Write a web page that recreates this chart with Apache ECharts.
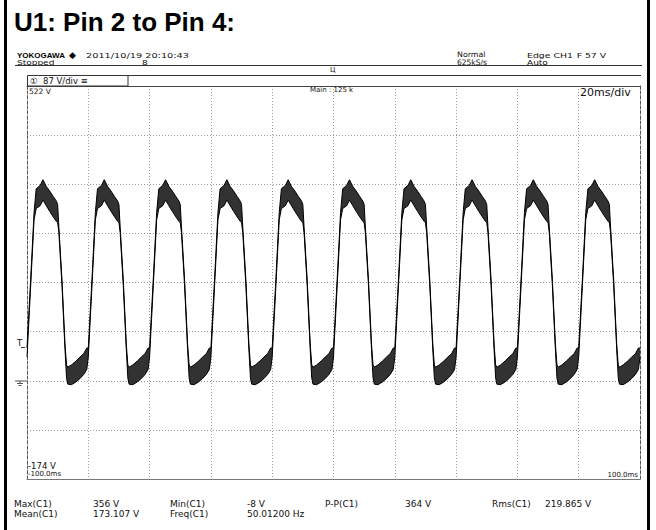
<!DOCTYPE html>
<html>
<head>
<meta charset="utf-8">
<script src="https://cdn.jsdelivr.net/npm/echarts@6/dist/echarts.min.js"></script>
<style>
html,body{margin:0;padding:0;background:#fff;}
#chart{width:656px;height:530px;}
</style>
</head>
<body>
<div id="chart"></div>
<script>
// ---- data (time in ms, voltage in V) ----
const xTicks = [-100, -80, -60, -40, -20, 0, 20, 40, 60, 80, 100];
const yTicks = [-174, -87, 0, 87, 174, 261, 348, 435, 522];
// start of each 20 ms cycle (rising edge through ~57 V trigger level)
const cycleStarts = [-100, -80, -60, -40, -20, 0, 20, 40, 60, 80, 100];
// one cycle of the waveform, phase within cycle (ms)
const phaseMs = [0, 1.2, 2.3, 3.0, 4.3, 5.2, 6.3, 7.4, 8.6, 9.6, 10.0, 10.4, 11.4, 12.4, 12.9, 13.3, 14.5, 16.0, 17.3, 18.5, 19.5];
// lower and upper edge of the noisy trace (V)
const lowerV = [42, 168, 285, 305, 310, 320, 310, 300, 290, 282, 280, 262, 170, 55, 5, -6, -7, -2, 4, 11, 20];
const upperV = [58, 180, 298, 340, 346, 356, 344, 336, 326, 318, 312, 272, 180, 65, 28, 24, 28, 35, 42, 48, 58];

const titleText = 'U1: Pin 2 to Pin 4:';
const measLabels = [['Max(C1)', 'Mean(C1)'], ['Min(C1)', 'Freq(C1)'], ['P-P(C1)'], ['Rms(C1)']];
const measValues = [['356 V', '173.107 V'], ['-8 V', '50.01200 Hz'], ['364 V'], ['219.865 V']];

// ---- build series data ----
const loData = [], hiData = [];
cycleStarts.forEach(function (s) {
  phaseMs.forEach(function (p, i) {
    const t = s + p;
    if (t <= xTicks[xTicks.length - 1] + 1e-9) {
      loData.push([t, lowerV[i]]);
      hiData.push([t, upperV[i]]);
    }
  });
});

const SMALL = '"DejaVu Sans","Noto Sans CJK JP",sans-serif';
function txt(x, y, s, size, opts) {
  opts = opts || {};
  const el = {
    type: 'text', x: x, y: y, z: 100,
    style: {
      text: s,
      font: (opts.weight || 'normal') + ' ' + size + 'px ' + (opts.family || SMALL),
      fill: opts.fill || '#111',
      align: opts.align || 'left', textAlign: opts.align || 'left',
      verticalAlign: 'middle', textVerticalAlign: 'middle'
    }
  };
  if (opts.sx) { el.scaleX = opts.sx; el.originX = 0; el.originY = 0; }
  return el;
}
function ln(x1, y1, x2, y2, color, w) {
  return { type: 'line', z: 100, shape: { x1: x1, y1: y1, x2: x2, y2: y2 }, style: { stroke: color || '#333', lineWidth: w || 1 } };
}

const graphics = [
  // outer frame verticals
  { type: 'rect', z: 100, shape: { x: 4, y: 0, width: 3, height: 530 }, style: { fill: '#000' } },
  { type: 'rect', z: 100, shape: { x: 647, y: 0, width: 3, height: 530 }, style: { fill: '#000' } },
  // title
  txt(14, 22, titleText, 26, { weight: 'bold', family: '"Liberation Sans", Arial, sans-serif', fill: '#000' }),
  // header
  txt(17, 55, 'YOKOGAWA', 8, { weight: 'bold', family: '"Liberation Sans", Arial, sans-serif', fill: '#000' }),
  txt(69, 54.5, '\u25C6', 9, { fill: '#000' }),
  txt(86, 55, '2011/10/19 20:10:43', 7.5, { sx: 1.3 }),
  txt(17, 62.5, 'Stopped', 7.5, { sx: 1.2 }),
  txt(142, 62.5, '8', 7.5, { sx: 1.2 }),
  txt(330, 69.5, '\u0426', 7),
  txt(457, 55, 'Normal', 7.5, { sx: 1.05 }),
  txt(457, 62.5, '625kS/s', 7.5, { sx: 1.0 }),
  txt(527, 55, 'Edge CH1 \u20A3 57 V', 7.5, { sx: 1.25 }),
  txt(527, 62.5, 'Auto', 7.5, { sx: 1.2 }),
  ln(15, 65.5, 642, 65.5, '#333', 1),
  // channel tab
  { type: 'rect', z: 100, shape: { x: 27.5, y: 75.5, width: 100.5, height: 10.5 }, style: { fill: '#fff', stroke: '#333', lineWidth: 1 } },
  ln(128, 75.5, 641, 75.5, '#333', 1),
  txt(30, 81, '\u2460', 8.5),
  txt(43, 81, '87 V/div \u2261', 8.5),
  // in-plot labels
  txt(29, 91.5, '522 V', 7.5),
  txt(310, 90, 'Main : 125 k', 7),
  txt(580, 92.5, '20ms/div', 11),
  txt(28, 466, '-174 V', 8.5),
  txt(28, 473.5, '-100.0ms', 7),
  txt(638, 474.5, '100.0ms', 7, { align: 'right' }),
  // trigger level and ground markers
  txt(17, 343, 'T', 8.5),
  ln(21, 347.5, 25, 347.5, '#333', 1),
  ln(15, 381, 27, 381, '#555', 1),
  ln(20, 381, 20, 383, '#555', 1),
  ln(17, 383.5, 23, 383.5, '#555', 1),
  ln(18.5, 385.5, 21.5, 385.5, '#555', 1)
];
// measurement rows
const measLabelX = [14, 170, 325, 492];
const measValueX = [93, 247, 405, 545];
const rowY = [504, 514];
measLabels.forEach(function (col, c) {
  col.forEach(function (s, r) { graphics.push(txt(measLabelX[c], rowY[r], s, 9)); });
});
measValues.forEach(function (col, c) {
  col.forEach(function (s, r) { graphics.push(txt(measValueX[c], rowY[r], s, 9)); });
});

const chart = echarts.init(document.getElementById('chart'), null, { renderer: 'svg' });
const gridSplit = { show: true, lineStyle: { color: '#9a9a9a', width: 1, type: [1, 2] } };
chart.setOption({
  animation: false,
  backgroundColor: '#fff',
  grid: { left: 27, top: 86, width: 613, height: 393, show: false },
  xAxis: [
    { type: 'value', min: xTicks[0], max: xTicks[xTicks.length - 1], interval: 20, position: 'bottom',
      axisLine: { show: true, onZero: false, lineStyle: { color: '#777', width: 1 } },
      axisTick: { show: false }, axisLabel: { show: false }, splitLine: gridSplit },
    { type: 'value', min: xTicks[0], max: xTicks[xTicks.length - 1], interval: 20, position: 'top',
      axisLine: { show: true, onZero: false, lineStyle: { color: '#444', width: 1 } },
      axisTick: { show: false }, axisLabel: { show: false }, splitLine: { show: false } }
  ],
  yAxis: [
    { type: 'value', min: yTicks[0], max: yTicks[yTicks.length - 1], interval: 87, position: 'left',
      axisLine: { show: true, onZero: false, lineStyle: { color: '#555', width: 1, type: [3, 2] } },
      axisTick: { show: false }, axisLabel: { show: false }, splitLine: gridSplit },
    { type: 'value', min: yTicks[0], max: yTicks[yTicks.length - 1], interval: 87, position: 'right',
      axisLine: { show: true, onZero: false, lineStyle: { color: '#555', width: 1, type: [3, 2] } },
      axisTick: { show: false }, axisLabel: { show: false }, splitLine: { show: false } }
  ],
  series: [
    { name: 'band', type: 'custom', xAxisIndex: 0, yAxisIndex: 0, z: 2,
      data: [loData[0]],
      encode: { x: 0, y: 1 },
      renderItem: function (params, api) {
        const pts = [];
        for (let i = 0; i < hiData.length; i++) pts.push(api.coord(hiData[i]));
        for (let i = loData.length - 1; i >= 0; i--) pts.push(api.coord(loData[i]));
        return { type: 'polygon', shape: { points: pts }, style: { fill: '#161616', opacity: 0.88 } };
      }
    },
    { name: 'lower', type: 'line', data: loData, xAxisIndex: 0, yAxisIndex: 0,
      showSymbol: false, symbol: 'none', lineStyle: { color: '#000', width: 1 }, z: 3 },
    { name: 'upper', type: 'line', data: hiData, xAxisIndex: 0, yAxisIndex: 0,
      showSymbol: false, symbol: 'none', lineStyle: { color: '#000', width: 1 }, z: 3 }
  ],
  graphic: graphics
});
</script>
</body>
</html>
